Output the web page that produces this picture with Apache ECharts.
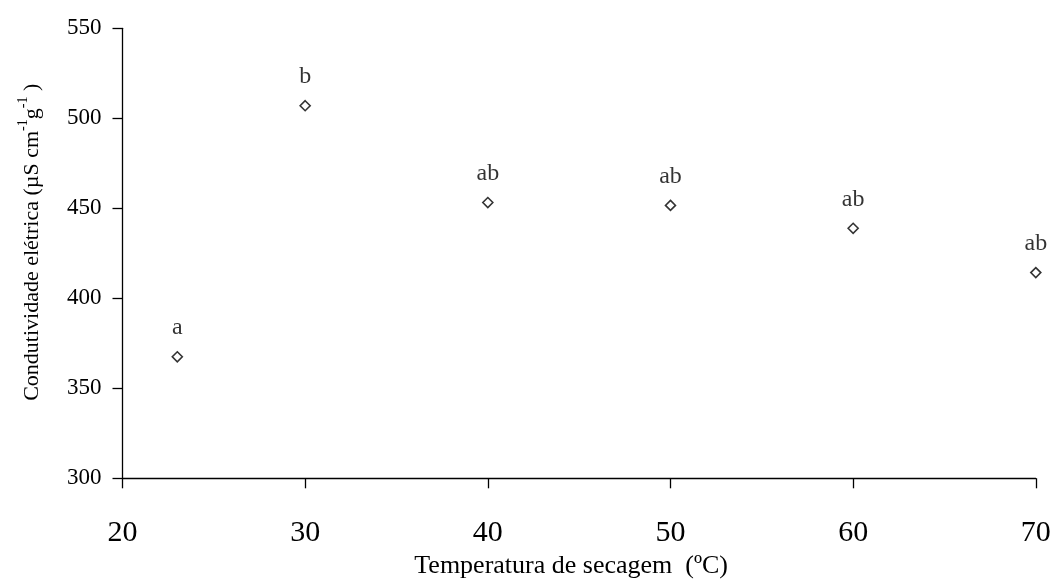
<!DOCTYPE html>
<html>
<head>
<meta charset="utf-8">
<script src="https://cdn.jsdelivr.net/npm/echarts@6/dist/echarts.min.js"></script>
<style>html,body{margin:0;padding:0;background:#fff}#c{width:1054px;height:585px}</style>
</head>
<body>
<div id="c"></div>
<script>
var temperatures = [23, 30, 40, 50, 60, 70];
var conductivity = [367.5, 507, 453.2, 451.6, 438.9, 414.3];
var letters = ['a', 'b', 'ab', 'ab', 'ab', 'ab'];
var xTicks = [20, 30, 40, 50, 60, 70];
var yTicks = [300, 350, 400, 450, 500, 550];

var font = '"Liberation Serif", "Times New Roman", serif';
var chart = echarts.init(document.getElementById('c'));
var points = temperatures.map(function (t, i) { return { value: [t, conductivity[i]], label: { formatter: letters[i] } }; });

chart.setOption({
  animation: false,
  backgroundColor: '#fff',
  grid: { left: 122.5, right: 18.2, top: 28.3, bottom: 106.7, containLabel: false },
  xAxis: {
    type: 'value',
    min: xTicks[0], max: xTicks[xTicks.length - 1], interval: 10,
    name: 'Temperatura de secagem  (ºC)',
    nameLocation: 'middle', nameGap: 75,
    nameTextStyle: { fontFamily: font, fontSize: 26, color: '#000', padding: [0, 16, 0, 0] },
    axisLine: { show: true, onZero: false, lineStyle: { color: '#000', width: 1.3 } },
    axisTick: { show: true, inside: false, length: 10, lineStyle: { color: '#000', width: 1.3 } },
    axisLabel: { fontFamily: font, fontSize: 30, color: '#000', margin: 40 },
    splitLine: { show: false }
  },
  yAxis: {
    type: 'value',
    min: yTicks[0], max: yTicks[yTicks.length - 1], interval: 50,
    name: '{a|Condutividade elétrica (µS cm}{s|-1}{a|g}{s|-1}{a| )}',
    nameLocation: 'middle', nameGap: 79, nameRotate: 90,
    nameTextStyle: {
      fontFamily: font, fontSize: 22, color: '#000', padding: [0, 0, 0, 22],
      rich: {
        a: { fontFamily: font, fontSize: 22, color: '#000', lineHeight: 27, verticalAlign: 'bottom' },
        s: { fontFamily: font, fontSize: 14, color: '#000', lineHeight: 27, verticalAlign: 'top' }
      }
    },
    axisLine: { show: true, onZero: false, lineStyle: { color: '#000', width: 1.3 } },
    axisTick: { show: true, inside: false, length: 10, lineStyle: { color: '#000', width: 1.3 } },
    axisLabel: { fontFamily: font, fontSize: 23, color: '#000', margin: 21 },
    splitLine: { show: false }
  },
  series: [{
    type: 'scatter',
    data: points,
    symbol: 'diamond',
    symbolSize: [10, 10],
    itemStyle: { color: '#fff', borderColor: '#000', borderWidth: 1.6 },
    label: { show: true, position: 'top', distance: 11, fontFamily: font, fontSize: 24, color: '#000' }
  }]
});
</script>
</body>
</html>
